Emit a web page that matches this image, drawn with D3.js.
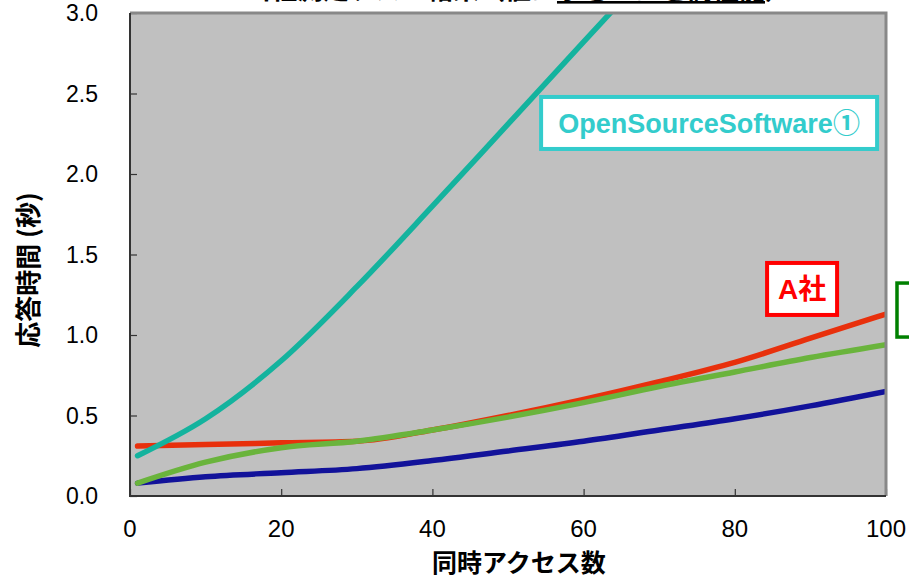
<!DOCTYPE html>
<html>
<head>
<meta charset="utf-8">
<script src="https://cdn.jsdelivr.net/npm/d3@7"></script>
<style>
  body { margin: 0; background: #fff; }
  svg { display: block; }
</style>
</head>
<body>
<svg id="chart" width="909" height="577"></svg>
<script>
// concurrent access counts (x)
const accessCounts = [1, 10, 20, 30, 40, 50, 60, 70, 80, 90, 100];

// response time (sec) per product
const ossCounts = [1, 10, 20, 30, 40, 50, 60, 70];
const ossTimes = [0.25, 0.48, 0.84, 1.30, 1.80, 2.31, 2.82, 3.33];
const companyATimes = [0.31, 0.32, 0.33, 0.34, 0.41, 0.50, 0.60, 0.71, 0.83, 0.98, 1.13];
const greenTimes = [0.08, 0.21, 0.30, 0.34, 0.41, 0.49, 0.58, 0.68, 0.77, 0.86, 0.94];
const blueTimes = [0.08, 0.12, 0.145, 0.17, 0.22, 0.28, 0.34, 0.41, 0.48, 0.56, 0.65];

const xTicks = [0, 20, 40, 60, 80, 100];
const yTicks = [0, 0.5, 1.0, 1.5, 2.0, 2.5, 3.0];

const svg = d3.select('#chart');

const x = d3.scaleLinear().domain([0, 100]).range([130, 886]);
const y = d3.scaleLinear().domain([0, 3]).range([496, 13]);

// title, mostly cut off at the top of the picture
const title = svg.append('text')
    .attr('x', 505)
    .attr('y', -1)
    .attr('text-anchor', 'middle')
    .style('font-family', '"Noto Sans CJK JP", sans-serif')
    .style('font-size', '26px')
    .style('font-weight', 'bold');
title.append('tspan').text('※当社測定テスト結果（値は');
title.append('tspan').attr('text-decoration', 'underline').text('小さいほど高性能');
title.append('tspan').text('）');

// plot background
svg.append('rect')
    .attr('x', x(0))
    .attr('y', y(3))
    .attr('width', x(100) - x(0))
    .attr('height', y(0) - y(3))
    .attr('fill', '#c0c0c0');

// clip lines to plot area
svg.append('clipPath').attr('id', 'plot-clip')
    .append('rect')
    .attr('x', x(0))
    .attr('y', y(3))
    .attr('width', x(100) - x(0))
    .attr('height', y(0) - y(3));

// axes with inside ticks
const xAxis = svg.append('g')
    .attr('transform', `translate(0,${y(0)})`)
    .call(d3.axisTop(x).tickValues(xTicks).tickSize(7).tickFormat(''));
const yAxis = svg.append('g')
    .attr('transform', `translate(${x(0)},0)`)
    .call(d3.axisRight(y).tickValues(yTicks).tickSize(7).tickFormat(''));
[xAxis, yAxis].forEach((g) => {
    g.select('.domain').remove();
    g.selectAll('line').attr('stroke', '#333').attr('stroke-width', 1.2);
});

// tick labels
svg.append('g').selectAll('text')
    .data(xTicks)
    .join('text')
    .attr('x', (d) => x(d))
    .attr('y', 537)
    .attr('text-anchor', 'middle')
    .style('font-family', '"Liberation Sans Narrow", "Arial Narrow", "Liberation Sans", sans-serif')
    .style('font-size', '24px')
    .text((d) => d);

svg.append('g').selectAll('text')
    .data(yTicks)
    .join('text')
    .attr('x', 98)
    .attr('y', (d) => y(d) + 8)
    .attr('text-anchor', 'end')
    .style('font-family', '"Liberation Sans", Arial, sans-serif')
    .style('font-size', '23px')
    .text((d) => d.toFixed(1));

// axis titles
svg.append('text')
    .attr('x', 519)
    .attr('y', 572)
    .attr('text-anchor', 'middle')
    .style('font-family', '"Noto Sans CJK JP", sans-serif')
    .style('font-size', '25px')
    .style('font-weight', 'bold')
    .text('同時アクセス数');

svg.append('text')
    .attr('transform', 'translate(38,270) rotate(-90)')
    .attr('text-anchor', 'middle')
    .style('font-family', '"Noto Sans CJK JP", sans-serif')
    .style('font-size', '26px')
    .style('font-weight', 'bold')
    .text('応答時間 (秒)');

// series lines
const line = d3.line()
    .x((d) => x(d[0]))
    .y((d) => y(d[1]))
    .curve(d3.curveMonotoneX);

const series = [
    { name: 'blue', counts: accessCounts, values: blueTimes, color: '#12129a' },
    { name: 'A社', counts: accessCounts, values: companyATimes, color: '#e8300c' },
    { name: 'OSS', counts: ossCounts, values: ossTimes, color: '#14b39e' },
    { name: 'green', counts: accessCounts, values: greenTimes, color: '#6ab43c' },
];

svg.append('g')
    .attr('clip-path', 'url(#plot-clip)')
    .selectAll('path')
    .data(series)
    .join('path')
    .attr('d', (s) => line(s.counts.map((c, i) => [c, s.values[i]])))
    .attr('fill', 'none')
    .attr('stroke', (s) => s.color)
    .attr('stroke-width', 5.5)
    .attr('stroke-linecap', 'round');

// plot frame: light top/right, dark left/bottom
svg.append('path')
    .attr('d', `M${x(0)},${y(3)}H${x(100)}V${y(0)}`)
    .attr('fill', 'none')
    .attr('stroke', '#888')
    .attr('stroke-width', 3);
svg.append('path')
    .attr('d', `M${x(0)},${y(3)}V${y(0)}H${x(100)}`)
    .attr('fill', 'none')
    .attr('stroke', '#333')
    .attr('stroke-width', 2);

// callout labels (data coordinates)
const labels = [
    { text: 'OpenSourceSoftware①', cx: 76.6, cy: 2.317, w: 336, h: 52, color: '#33cccc', size: 27, sw: 4 },
    { text: 'A社', cx: 88.9, cy: 1.286, w: 70, h: 52, color: '#ff0000', size: 28, sw: 4 },
    { text: '', cx: 104.1, cy: 1.155, w: 40, h: 54, color: '#008000', size: 26, sw: 3.5 },
];

const lab = svg.append('g').selectAll('g')
    .data(labels)
    .join('g')
    .attr('transform', (d) => `translate(${x(d.cx)},${y(d.cy)})`);

lab.append('rect')
    .attr('x', (d) => -d.w / 2)
    .attr('y', (d) => -d.h / 2)
    .attr('width', (d) => d.w)
    .attr('height', (d) => d.h)
    .attr('fill', '#fff')
    .attr('stroke', (d) => d.color)
    .attr('stroke-width', (d) => d.sw);

lab.append('text')
    .attr('text-anchor', 'middle')
    .attr('dy', '0.36em')
    .attr('fill', (d) => d.color)
    .style('font-family', '"Liberation Sans", "Noto Sans CJK JP", sans-serif')
    .style('font-size', (d) => d.size + 'px')
    .style('font-weight', 'bold')
    .text((d) => d.text);
</script>
</body>
</html>
